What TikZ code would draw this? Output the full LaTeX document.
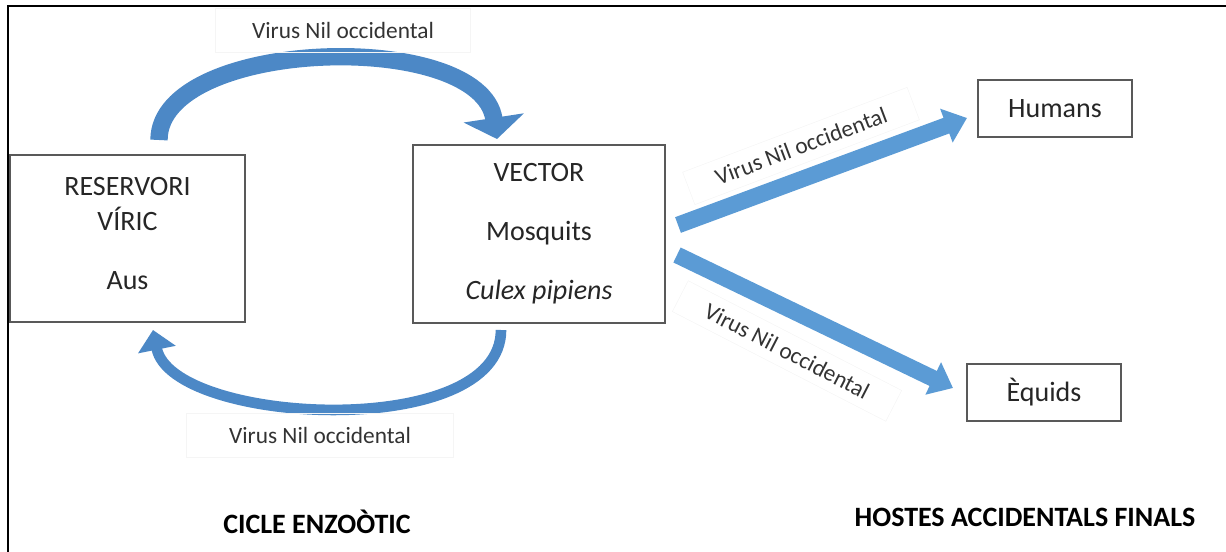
\documentclass[tikz,border=0pt]{standalone}
\usepackage{fontspec}
\setmainfont{Carlito}
\usetikzlibrary{arrows.meta}
\definecolor{arcblue}{HTML}{4C88C6}
\definecolor{barblue}{HTML}{5B9BD5}
\definecolor{boxgray}{HTML}{595959}
\tikzset{
  hostbox/.style={draw=boxgray, line width=1.2pt, align=center, text=black!85, font=\fontsize{21}{26.25}\selectfont},
  vlabel/.style={draw=black!4, line width=0.4pt, text=black!80, font=\fontsize{17.5}{21}\selectfont, minimum height=33pt},
  heading/.style={text=black, font=\fontsize{21}{25}\selectfont\bfseries},
  cyclearc/.style={arcblue, line cap=butt},
  hostarrow/.style={barblue, line width=12.5pt, -{Triangle[width=26pt,length=16.5pt]}}
}

\begin{document}
\begin{tikzpicture}[x=0.75pt,y=-0.75pt]
\useasboundingbox (0,0) rectangle (1226,552);
\draw[line width=1.5pt] (8,552) -- (8,6) -- (1226,6);

\node[hostbox, minimum width=176pt, minimum height=125pt] (res) at (127.5,238.5) {RESERVORI\\VÍRIC\\[18pt]Aus\rule[-7.5pt]{0pt}{7.5pt}};
\node[hostbox, minimum width=189pt, minimum height=133.5pt] (vec) at (539,234) {VECTOR\\[18pt]Mosquits\\[18pt]\textit{Culex pipiens}};
\node[hostbox, minimum width=115.5pt, minimum height=42.75pt] (hum) at (1055,108.5) {Humans};
\node[hostbox, minimum width=115.5pt, minimum height=42.75pt] (equ) at (1044,392.5) {Èquids};

\coordinate (resTop) at (159,140);
\coordinate (vecIn) at (497,139);
\coordinate (vecOut) at (501,330);
\coordinate (resIn) at (153,330);
\coordinate (humOut) at (678,225);
\coordinate (humIn) at (967,118);
\coordinate (equOut) at (677,255);
\coordinate (equIn) at (953,388);

\draw[cyclearc, line width=13pt, -{Triangle[width=45pt,length=16pt]}] (resTop) .. controls (159,38) and (480,28) .. (vecIn);
\draw[cyclearc, line width=8pt, -{Triangle[width=28pt,length=15pt]}] (vecOut) .. controls (501,442) and (172,425) .. (resIn);
\draw[hostarrow] (humOut) -- (humIn);
\draw[hostarrow] (equOut) -- (equIn);

\node[vlabel, minimum width=191pt] (lblTop) at (343,30) {Virus Nil occidental};
\node[vlabel, minimum width=200pt] (lblBot) at (320,435) {Virus Nil occidental};
\node[vlabel, minimum width=180pt, minimum height=26pt, rotate=20.7] (lblHum) at (801,146) {Virus Nil occidental};
\node[vlabel, minimum width=180pt, minimum height=26pt, rotate=-27.2] (lblEqu) at (787,351) {Virus Nil occidental};

\node[heading] (cicle) at (317,522) {CICLE ENZOÒTIC};
\node[heading] (hostes) at (1025,517) {HOSTES ACCIDENTALS FINALS};
\end{tikzpicture}
\end{document}
